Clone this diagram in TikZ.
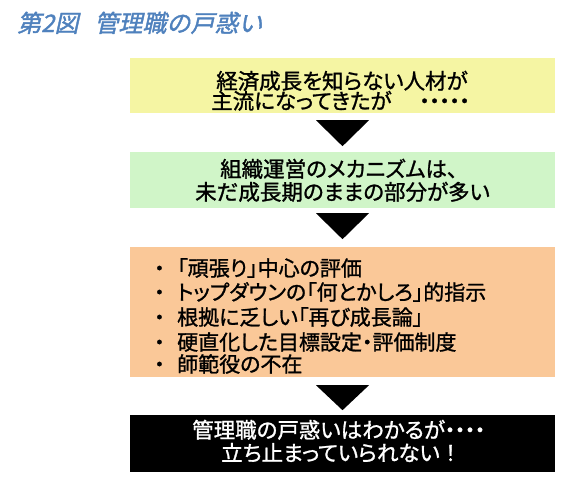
\documentclass[tikz,border=0pt]{standalone}
\usepackage{fontspec}
\newfontfamily\jp[RawFeature=+palt,FakeBold=1.2]{Noto Sans CJK JP}
\newfontfamily\jpfw[FakeBold=1.2]{Noto Sans CJK JP}
\newfontfamily\jptitle[FakeSlant=0.22,FakeBold=1.5]{Noto Sans CJK JP}
\definecolor{titleblue}{RGB}{79,129,189}
\definecolor{boxyellow}{RGB}{245,245,163}
\definecolor{boxgreen}{RGB}{208,245,200}
\definecolor{boxorange}{RGB}{250,200,152}
\tikzset{
  panel/.style={draw=none, rectangle, inner sep=0pt, minimum width=425pt},
  line/.style={anchor=base west, inner sep=0pt, font=\jp\fontsize{21.5}{21.5}\selectfont},
  item/.style={anchor=base west, inner sep=0pt, font=\jp\fontsize{21}{21}\selectfont},
  downtri/.style={fill=black}
}
\newcommand{\bul}{\makebox[20pt][l]{\hspace{-3pt}・}}
\newcommand{\dt}{\makebox[10pt][c]{\jpfw・}}
\begin{document}
\begin{tikzpicture}[x=1pt,y=-1pt]
\useasboundingbox (0,0) rectangle (587,482);
% title
\node[anchor=base west, inner sep=0pt, text=titleblue, font=\jptitle\fontsize{24}{24}\selectfont] (title) at (17,32) {第2図\hspace{16pt}管理職の戸惑い};
% panels
\node[panel, fill=boxyellow, minimum height=55pt] (b1) at (342.5,85.5) {};
\node[panel, fill=boxgreen, minimum height=56pt] (b2) at (342.5,180) {};
\node[panel, fill=boxorange, minimum height=130pt] (b3) at (342.5,312) {};
\node[panel, fill=black, minimum height=57pt] (b4) at (342.5,443.5) {};
% triangles
\fill[downtri] (b1.south) ++(-26.5,7) -- ++(53,0) -- ++(-26.5,26) -- cycle;
\fill[downtri] (b2.south) ++(-26.5,5) -- ++(53,0) -- ++(-26.5,26) -- cycle;
\fill[downtri] (b3.south) ++(-26.5,8) -- ++(53,0) -- ++(-26.5,25) -- cycle;
% box 1 text
\node[line] (b1a) at (216,89) {経済成長を知らない人材が};
\node[line] (b1b) at (211,109) {主流になってきたが\hspace{28pt}\dt\dt\dt\dt\dt};
% box 2 text
\node[line] (b2a) at (220,177) {組織運営のメカニズムは、};
\node[line] (b2b) at (195,200) {未だ成長期のままの部分が多い};
% box 3 text
\node[item] (i1) at (157,276) {\bul「頑張り」中心の評価};
\node[item] (i2) at (157,300) {\bul トップダウンの「何とかしろ」的指示};
\node[item] (i3) at (157,325) {\bul 根拠に乏しい「再び成長論」};
\node[item] (i4) at (157,350) {\bul 硬直化した目標設定・評価制度};
\node[item] (i5) at (157,372) {\bul 師範役の不在};
% box 4 text
\node[line, text=white] (b4a) at (192,438) {管理職の戸惑いはわかるが\dt\dt\dt\dt};
\node[line, text=white] (b4b) at (221,461) {立ち止まっていられない{\jpfw！}};
\end{tikzpicture}
\end{document}
